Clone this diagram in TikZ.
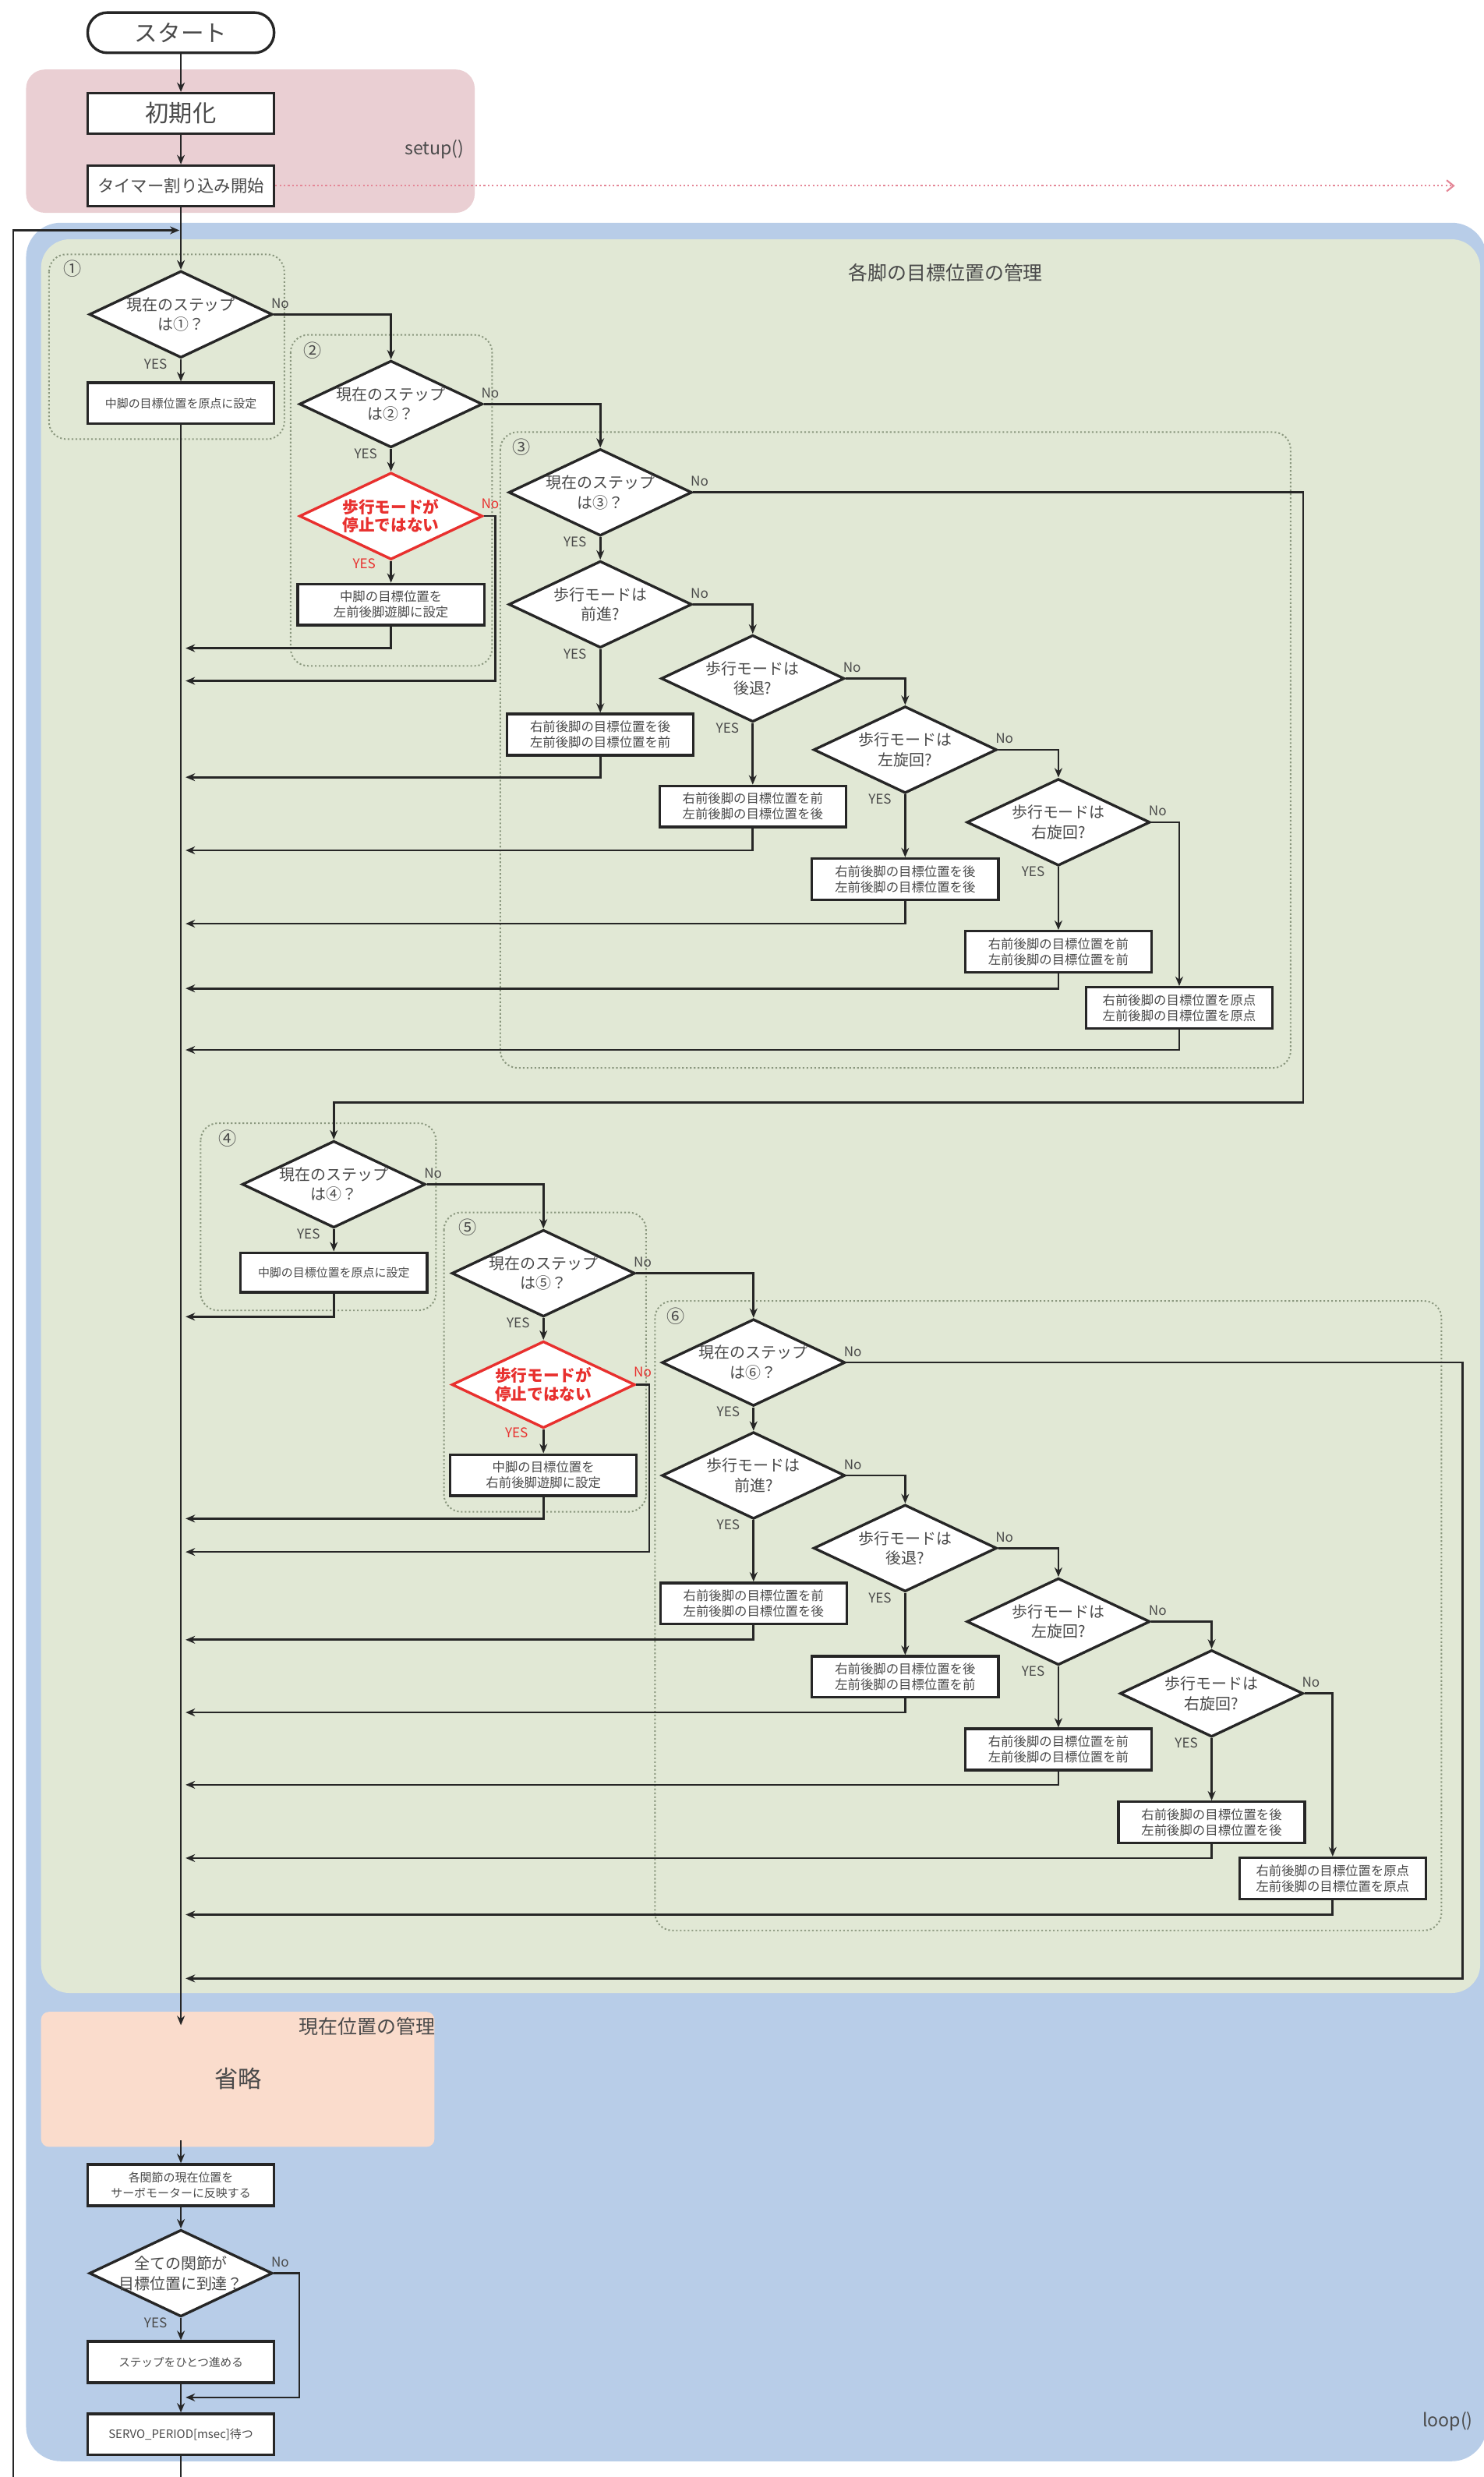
\documentclass[tikz,border=0pt]{standalone}
\usepackage{fontspec}
\setmainfont{Noto Sans CJK JP}
\usetikzlibrary{shapes.geometric,arrows.meta,calc}
\definecolor{pinkbg}{HTML}{EACFD3}
\definecolor{bluebg}{HTML}{B8CDE8}
\definecolor{greenbg}{HTML}{E1E8D5}
\definecolor{orangebg}{HTML}{FADCCC}
\definecolor{grpline}{HTML}{8A977E}
\definecolor{lnc}{HTML}{262626}
\definecolor{txt}{HTML}{4A4A4A}
\definecolor{redc}{HTML}{E8302E}
\definecolor{pinkdot}{HTML}{E48797}
\newcommand{\myfs}[2]{\fontsize{#1}{#2}\selectfont}
\tikzset{
  ln/.style={draw=lnc, line width=0.75pt},
  ar/.style={ln, -{Stealth[length=3.4pt,width=2.8pt]}},
  shp/.style={draw=lnc, fill=white, line width=0.95pt},
  dia/.style={shp, diamond, inner sep=0pt, minimum width=23.2mm, minimum height=11mm},
  rdia/.style={dia, draw=redc},
  dtxt/.style={align=center, inner sep=0pt, text=txt, font={\myfs{5.6pt}{7.2pt}}},
  rtxt/.style={align=center, inner sep=0pt, text=redc, font={\myfs{5.8pt}{6.5pt}\bfseries}},
  box/.style={shp, rectangle, inner sep=0pt, minimum width=23.6mm, minimum height=5.2mm, align=center, text=txt, font={\myfs{4.6pt}{5.6pt}}},
  term/.style={shp, rectangle, rounded corners=2.5mm, inner sep=0pt, minimum width=23.6mm, minimum height=5.1mm, text=txt, font={\myfs{8.3pt}{9pt}}},
  grp/.style={draw=grpline, line width=0.55pt, dash pattern=on 0.6pt off 0.8pt, rounded corners=2.2mm},
  glbl/.style={text=txt, font={\myfs{6.5pt}{7pt}}, inner sep=0pt},
  yes/.style={text=txt, font={\myfs{4.8pt}{5pt}}, inner sep=0pt},
  ryes/.style={yes, text=redc},
  ttl/.style={text=txt, font={\myfs{7pt}{8pt}}, inner sep=0pt},
}
\begin{document}
\begin{tikzpicture}[x=0.2mm, y=-0.2mm]
\useasboundingbox (0,0) rectangle (939,1568);
% backgrounds
\fill[pinkbg, rounded corners=2.4mm] (16.5,44) rectangle (300.5,134.7);
\fill[bluebg, rounded corners=4.4mm] (16.5,141) rectangle (941,1558);
\fill[greenbg, rounded corners=3.6mm] (26,151.5) rectangle (937,1261.6);
\fill[orangebg, rounded corners=1mm] (26,1273.5) rectangle (275,1359);
% groups
\draw[grp] (31,161) rectangle (180,278);
\draw[grp] (184,212) rectangle (311.5,421.5);
\draw[grp] (316.7,273.5) rectangle (817,676);
\draw[grp] (127,711) rectangle (276,829.5);
\draw[grp] (281,767.5) rectangle (409,957);
\draw[grp] (414.6,823.5) rectangle (912.5,1222);
\node[glbl] (g1) at (46,170) {①};
\node[glbl] (g2) at (198,222) {②};
\node[glbl] (g3) at (330,283) {③};
\node[glbl] (g4) at (144,720.6) {④};
\node[glbl] (g5) at (296,777) {⑤};
\node[glbl] (g6) at (428,833) {⑥};
% titles
\node[text=txt, font={\myfs{6.5pt}{7pt}}, inner sep=0pt] (setuplbl) at (275,94.6) {setup()};
\node[text=txt, font={\myfs{6.5pt}{7pt}}, inner sep=0pt] (looplbl) at (916.4,1533) {loop()};
\node[ttl] (t1) at (598.6,172.5) {各脚の目標位置の管理};
\node[ttl] (t2) at (232.3,1282.6) {現在位置の管理};
\node[text=txt, font={\myfs{8.5pt}{9pt}}, inner sep=0pt] (omit) at (150.8,1316) {省略};
% top nodes
\node[term] (start) at (114.5,20.7) {スタート};
\node[box, minimum height=5.1mm, font={\myfs{8.5pt}{9pt}}] (init) at (114.5,71.8) {初期化};
\node[box, minimum height=5.1mm, font={\myfs{6pt}{7pt}}] (timer) at (114.5,117.6) {タイマー割り込み開始};
% diamonds
\node[dia] (d1) at (114.5,199) {};
\node[dia] (d2) at (247.5,255.8) {};
\node[rdia] (r2) at (247.5,326.7) {};
\node[dia] (d3) at (380,311.7) {};
\node[dia] (d3a) at (380,382.6) {};
\node[dia] (d3b) at (476.5,429.5) {};
\node[dia] (d3c) at (573,474.6) {};
\node[dia] (d3d) at (670,520.5) {};
\node[dia] (d4) at (211.3,749.7) {};
\node[dia] (d5) at (344,806) {};
\node[rdia] (r5) at (344,876.5) {};
\node[dia] (d6) at (477,862.5) {};
\node[dia] (d6a) at (477,934) {};
\node[dia] (d6b) at (573,980) {};
\node[dia] (d6c) at (670,1026.5) {};
\node[dia] (d6d) at (767,1072) {};
\node[dia] (dx) at (114.5,1439) {};
\node[dtxt] (d1t) at (d1) {現在のステップ\\は①？};
\node[dtxt] (d2t) at (d2) {現在のステップ\\は②？};
\node[rtxt] (r2t) at (r2) {歩行モードが\\停止ではない};
\node[dtxt] (d3t) at (d3) {現在のステップ\\は③？};
\node[dtxt] (d3at) at (d3a) {歩行モードは\\前進?};
\node[dtxt] (d3bt) at (d3b) {歩行モードは\\後退?};
\node[dtxt] (d3ct) at (d3c) {歩行モードは\\左旋回?};
\node[dtxt] (d3dt) at (d3d) {歩行モードは\\右旋回?};
\node[dtxt] (d4t) at (d4) {現在のステップ\\は④？};
\node[dtxt] (d5t) at (d5) {現在のステップ\\は⑤？};
\node[rtxt] (r5t) at (r5) {歩行モードが\\停止ではない};
\node[dtxt] (d6t) at (d6) {現在のステップ\\は⑥？};
\node[dtxt] (d6at) at (d6a) {歩行モードは\\前進?};
\node[dtxt] (d6bt) at (d6b) {歩行モードは\\後退?};
\node[dtxt] (d6ct) at (d6c) {歩行モードは\\左旋回?};
\node[dtxt] (d6dt) at (d6d) {歩行モードは\\右旋回?};
\node[dtxt] (dxt) at (dx) {全ての関節が\\目標位置に到達？};
% boxes
\node[box, font={\myfs{4.2pt}{5pt}}] (b1) at (114.5,255.3) {中脚の目標位置を原点に設定};
\node[box] (b2) at (247.5,382.7) {中脚の目標位置を\\左前後脚遊脚に設定};
\node[box] (b3a) at (380,465) {右前後脚の目標位置を後\\左前後脚の目標位置を前};
\node[box] (b3b) at (476.5,510.5) {右前後脚の目標位置を前\\左前後脚の目標位置を後};
\node[box] (b3c) at (573,556.5) {右前後脚の目標位置を後\\左前後脚の目標位置を後};
\node[box] (b3d) at (670,602.5) {右前後脚の目標位置を前\\左前後脚の目標位置を前};
\node[box] (b3e) at (746.5,638) {右前後脚の目標位置を原点\\左前後脚の目標位置を原点};
\node[box, font={\myfs{4.2pt}{5pt}}, minimum height=5mm] (b4) at (211.3,805.5) {中脚の目標位置を原点に設定};
\node[box] (b5) at (344,933.8) {中脚の目標位置を\\右前後脚遊脚に設定};
\node[box] (b6a) at (477,1015) {右前後脚の目標位置を前\\左前後脚の目標位置を後};
\node[box] (b6b) at (573,1061.5) {右前後脚の目標位置を後\\左前後脚の目標位置を前};
\node[box] (b6c) at (670,1107.4) {右前後脚の目標位置を前\\左前後脚の目標位置を前};
\node[box] (b6d) at (767,1153.6) {右前後脚の目標位置を後\\左前後脚の目標位置を後};
\node[box] (b6e) at (843.6,1189) {右前後脚の目標位置を原点\\左前後脚の目標位置を原点};
\node[box, font={\myfs{4.2pt}{5.6pt}}] (bx1) at (114.5,1383.2) {各関節の現在位置を\\サーボモーターに反映する};
\node[box, font={\myfs{4.1pt}{5pt}}] (bx2) at (114.5,1495.2) {ステップをひとつ進める};
\node[box, font={\myfs{4.2pt}{5pt}}] (bx3) at (114.5,1541) {SERVO\_PERIOD[msec]待つ};
% YES / No labels
\foreach \n in {d1,d2,d3,d3a,d3b,d3c,d3d,d4,d5,d6,d6a,d6b,d6c,d6d,dx}{
  \node[yes] (\n y) at ($(\n.south)+(-16,3)$) {YES};
  \node[yes] (\n n) at ($(\n.east)+(4,-7)$) {No};
}
\foreach \n in {r2,r5}{
  \node[ryes] (\n y) at ($(\n.south)+(-17,2)$) {YES};
  \node[ryes] (\n n) at ($(\n.east)+(4,-8)$) {No};
}
% coordinates
\coordinate (pend) at (921,117.6);
\coordinate (loopin) at (113.6,145.8);
\coordinate (omin) at (114.5,1282);
\coordinate (omout) at (114.5,1355);
\coordinate (j1) at (117.5,410.3);
\coordinate (j2) at (117.5,431);
\coordinate (j3) at (117.5,492);
\coordinate (j4) at (117.5,538.3);
\coordinate (j5) at (117.5,584.7);
\coordinate (j6) at (117.5,625.7);
\coordinate (j7) at (117.5,664.6);
\coordinate (j8) at (117.5,833.5);
\coordinate (j9) at (117.5,961.3);
\coordinate (j10) at (117.5,982.4);
\coordinate (j11) at (117.5,1038);
\coordinate (j12) at (117.5,1084);
\coordinate (j13) at (117.5,1129.8);
\coordinate (j14) at (117.5,1176.2);
\coordinate (j15) at (117.5,1212);
\coordinate (j16) at (117.5,1252.4);
\coordinate (j17) at (117.5,1517.6);
% main flow
\draw[ar] (start) -- (init);
\draw[ar] (init) -- (timer);
\draw[ar] (timer) -- (d1);
\draw[pinkdot, line width=0.6pt, dash pattern=on 0.6pt off 0.9pt, -{Straight Barb[length=2.5pt,width=4pt]}] (timer.east) -- (pend);
\draw[ar] (d1) -- (b1);
\draw[ar] (b1) -- (omin);
\draw[ar] (omout) -- (bx1);
\draw[ar] (bx1) -- (dx);
\draw[ar] (dx) -- (bx2);
\draw[ar] (bx2) -- (bx3);
\draw[ar] (bx3.south) -- (114.5,1600) -| (8.4,145.8) -- (loopin);
% step branches
\draw[ar] (d1.east) -| (d2.north);
\draw[ar] (d2) -- (r2);
\draw[ar] (r2) -- (b2);
\draw[ar] (b2.south) |- (j1);
\draw[ar] (r2.east) -| (313.5,431) -- (j2);
\draw[ar] (d2.east) -| (d3.north);
\draw[ar] (d3) -- (d3a);
\draw[ar] (d3a) -- (b3a);
\draw[ar] (d3a.east) -| (d3b.north);
\draw[ar] (d3b) -- (b3b);
\draw[ar] (d3b.east) -| (d3c.north);
\draw[ar] (d3c) -- (b3c);
\draw[ar] (d3c.east) -| (d3d.north);
\draw[ar] (d3d) -- (b3d);
\draw[ar] (d3d.east) -| (b3e.north);
\draw[ar] (b3a.south) |- (j3);
\draw[ar] (b3b.south) |- (j4);
\draw[ar] (b3c.south) |- (j5);
\draw[ar] (b3d.south) |- (j6);
\draw[ar] (b3e.south) |- (j7);
\draw[ar] (d3.east) -| (825,698) -| (d4.north);
\draw[ar] (d4) -- (b4);
\draw[ar] (b4.south) |- (j8);
\draw[ar] (d4.east) -| (d5.north);
\draw[ar] (d5) -- (r5);
\draw[ar] (r5) -- (b5);
\draw[ar] (b5.south) |- (j9);
\draw[ar] (r5.east) -| (411,982.4) -- (j10);
\draw[ar] (d5.east) -| (d6.north);
\draw[ar] (d6) -- (d6a);
\draw[ar] (d6a) -- (b6a);
\draw[ar] (d6a.east) -| (d6b.north);
\draw[ar] (d6b) -- (b6b);
\draw[ar] (d6b.east) -| (d6c.north);
\draw[ar] (d6c) -- (b6c);
\draw[ar] (d6c.east) -| (d6d.north);
\draw[ar] (d6d) -- (b6d);
\draw[ar] (d6d.east) -| (b6e.north);
\draw[ar] (b6a.south) |- (j11);
\draw[ar] (b6b.south) |- (j12);
\draw[ar] (b6c.south) |- (j13);
\draw[ar] (b6d.south) |- (j14);
\draw[ar] (b6e.south) |- (j15);
\draw[ar] (d6.east) -| (926,1252.4) -- (j16);
\draw[ar] (dx.east) -| (189.4,1517.6) -- (j17);
\end{tikzpicture}
\end{document}
